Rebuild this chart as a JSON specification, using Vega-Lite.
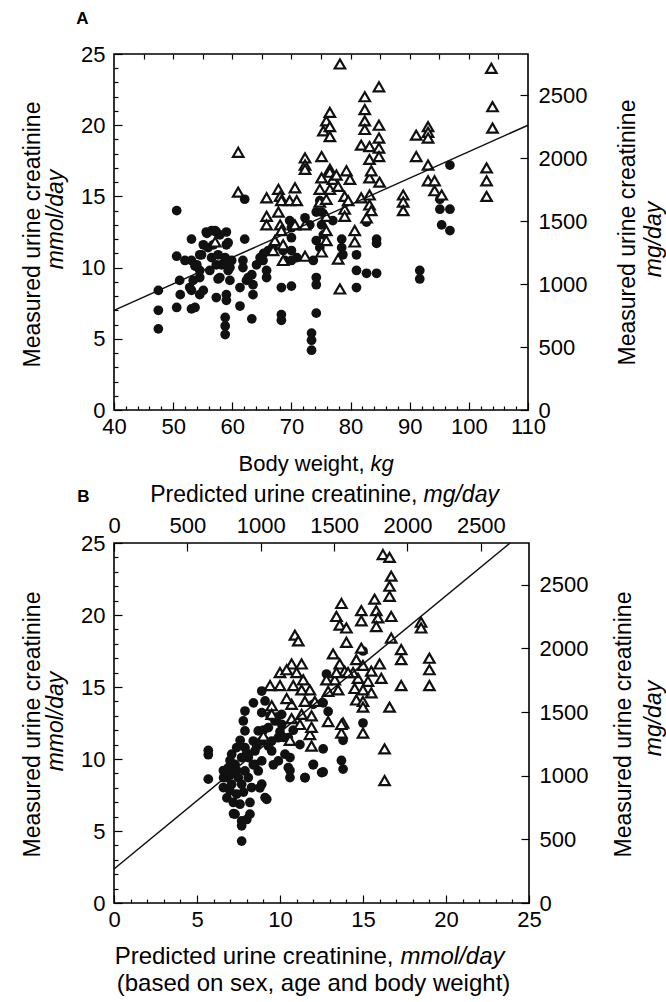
{
  "$schema": "https://vega.github.io/schema/vega-lite/v6.json",
  "padding": {"left": 20, "top": 8, "right": 0, "bottom": 0},
  "background": "white",
  "spacing": 7,
  "config": {
    "font": "Liberation Sans",
    "view": {"stroke": "black", "strokeWidth": 1.6},
    "axis": {"domain": false, "grid": false, "tickColor": "black", "tickWidth": 1.2, "labelFont": "Liberation Sans", "labelFontSize": 22, "labelColor": "black", "titleFont": "Liberation Sans", "titleColor": "black", "titleFontWeight": "normal", "titleFontSize": 23, "labelFlush": false, "labelOverlap": false, "titleBaseline": "middle", "titleAlign": "center"}
  },
  "datasets": {
    "a_f": [{"x":47.5,"y":8.4},{"x":47.5,"y":7.0},{"x":47.5,"y":5.7},{"x":50.6,"y":14.0},{"x":50.6,"y":10.8},{"x":50.6,"y":7.2},{"x":51.1,"y":9.1},{"x":51.2,"y":8.1},{"x":52.0,"y":10.5},{"x":53.1,"y":12.0},{"x":53.1,"y":10.5},{"x":53.1,"y":8.4},{"x":53.1,"y":7.1},{"x":52.8,"y":8.6},{"x":53.7,"y":7.2},{"x":53.7,"y":10.1},{"x":53.4,"y":9.1},{"x":54.5,"y":8.1},{"x":54.5,"y":9.3},{"x":54.0,"y":10.2},{"x":54.5,"y":10.9},{"x":54.5,"y":9.8},{"x":54.8,"y":10.9},{"x":55.1,"y":11.6},{"x":55.1,"y":8.4},{"x":55.6,"y":12.5},{"x":55.7,"y":12.4},{"x":55.9,"y":11.4},{"x":56.2,"y":9.8},{"x":56.5,"y":12.6},{"x":56.5,"y":10.7},{"x":56.8,"y":11.6},{"x":57.1,"y":12.6},{"x":57.3,"y":12.5},{"x":57.3,"y":10.2},{"x":57.3,"y":7.9},{"x":57.6,"y":10.9},{"x":57.6,"y":9.2},{"x":57.9,"y":12.3},{"x":57.9,"y":9.3},{"x":58.2,"y":10.2},{"x":58.5,"y":10.3},{"x":58.8,"y":10.7},{"x":58.8,"y":6.5},{"x":58.8,"y":5.9},{"x":58.8,"y":5.3},{"x":59.0,"y":12.5},{"x":59.0,"y":11.6},{"x":59.0,"y":8.1},{"x":59.0,"y":7.7},{"x":59.3,"y":11.75},{"x":59.3,"y":9.8},{"x":59.6,"y":10.0},{"x":59.6,"y":9.1},{"x":59.9,"y":10.5},{"x":61.3,"y":8.6},{"x":61.3,"y":7.3},{"x":61.8,"y":10.5},{"x":61.8,"y":10.0},{"x":62.1,"y":12.0},{"x":62.1,"y":14.8},{"x":62.4,"y":9.1},{"x":62.7,"y":9.3},{"x":63.3,"y":9.5},{"x":63.3,"y":6.4},{"x":63.5,"y":8.8},{"x":63.5,"y":8.1},{"x":64.1,"y":10.2},{"x":64.7,"y":10.7},{"x":65.2,"y":10.5},{"x":65.3,"y":11.0},{"x":65.8,"y":9.8},{"x":65.8,"y":9.3},{"x":66.1,"y":11.2},{"x":66.9,"y":11.4},{"x":68.3,"y":8.6},{"x":68.3,"y":6.7},{"x":68.3,"y":6.3},{"x":68.6,"y":11.2},{"x":68.9,"y":10.5},{"x":69.7,"y":13.3},{"x":70.0,"y":12.8},{"x":70.0,"y":12.1},{"x":70.0,"y":11.2},{"x":70.0,"y":10.5},{"x":70.0,"y":8.7},{"x":70.9,"y":10.7},{"x":72.3,"y":13.5},{"x":73.1,"y":13.0},{"x":73.4,"y":5.4},{"x":73.4,"y":4.9},{"x":73.4,"y":4.2},{"x":73.7,"y":10.5},{"x":74.2,"y":13.9},{"x":74.2,"y":11.9},{"x":74.2,"y":9.3},{"x":74.2,"y":8.8},{"x":74.2,"y":6.8},{"x":74.8,"y":14.7},{"x":74.8,"y":11.4},{"x":75.1,"y":13.9},{"x":75.1,"y":13.0},{"x":75.4,"y":12.3},{"x":77.0,"y":13.3},{"x":78.5,"y":12.0},{"x":78.5,"y":11.4},{"x":78.7,"y":10.9},{"x":81.0,"y":10.9},{"x":81.0,"y":9.8},{"x":81.0,"y":8.6},{"x":82.7,"y":13.2},{"x":82.7,"y":9.6},{"x":84.4,"y":12.0},{"x":84.4,"y":11.7},{"x":84.4,"y":9.6},{"x":91.7,"y":9.8},{"x":91.7,"y":9.2},{"x":95.1,"y":14.8},{"x":95.1,"y":14.1},{"x":95.4,"y":13.0},{"x":96.8,"y":17.2},{"x":96.8,"y":14.1},{"x":96.8,"y":12.6}],
    "a_o": [{"x":61.0,"y":18.1},{"x":61.0,"y":15.3},{"x":57.1,"y":11.8},{"x":65.8,"y":14.9},{"x":65.8,"y":13.6},{"x":65.8,"y":13.0},{"x":66.9,"y":11.2},{"x":67.2,"y":11.9},{"x":67.8,"y":15.5},{"x":67.8,"y":13.9},{"x":68.1,"y":15.0},{"x":68.1,"y":13.0},{"x":68.3,"y":14.7},{"x":68.3,"y":12.6},{"x":68.6,"y":11.6},{"x":68.6,"y":10.5},{"x":69.7,"y":14.7},{"x":70.6,"y":15.6},{"x":70.6,"y":13.0},{"x":70.9,"y":14.7},{"x":72.3,"y":17.7},{"x":72.3,"y":17.2},{"x":72.3,"y":16.9},{"x":72.3,"y":13.0},{"x":72.3,"y":10.8},{"x":74.8,"y":15.5},{"x":74.8,"y":14.6},{"x":75.1,"y":17.8},{"x":75.1,"y":16.3},{"x":75.1,"y":11.1},{"x":75.4,"y":19.6},{"x":75.9,"y":20.3},{"x":75.9,"y":14.8},{"x":75.9,"y":13.6},{"x":75.9,"y":12.6},{"x":75.9,"y":11.9},{"x":76.5,"y":20.9},{"x":76.5,"y":19.9},{"x":76.5,"y":19.2},{"x":76.5,"y":16.9},{"x":76.5,"y":16.7},{"x":76.5,"y":15.5},{"x":77.0,"y":16.2},{"x":77.6,"y":16.5},{"x":77.9,"y":15.7},{"x":77.9,"y":10.6},{"x":78.2,"y":24.3},{"x":78.2,"y":8.5},{"x":79.0,"y":15.0},{"x":79.0,"y":14.1},{"x":79.0,"y":13.6},{"x":79.3,"y":16.8},{"x":79.6,"y":14.7},{"x":79.9,"y":16.2},{"x":80.7,"y":12.6},{"x":80.7,"y":11.8},{"x":81.8,"y":18.6},{"x":81.8,"y":14.9},{"x":82.4,"y":22.0},{"x":82.4,"y":21.1},{"x":82.4,"y":20.3},{"x":82.4,"y":19.7},{"x":82.7,"y":13.5},{"x":83.2,"y":18.5},{"x":83.2,"y":17.6},{"x":83.2,"y":16.3},{"x":83.2,"y":15.1},{"x":83.2,"y":14.4},{"x":83.5,"y":16.8},{"x":83.5,"y":14.0},{"x":84.8,"y":22.7},{"x":84.8,"y":20.0},{"x":84.8,"y":19.1},{"x":84.8,"y":18.4},{"x":84.8,"y":17.8},{"x":84.9,"y":16.0},{"x":88.9,"y":15.1},{"x":88.9,"y":14.6},{"x":88.9,"y":14.0},{"x":91.1,"y":19.3},{"x":91.1,"y":17.8},{"x":93.1,"y":19.9},{"x":93.1,"y":19.5},{"x":93.1,"y":19.1},{"x":93.1,"y":17.2},{"x":93.1,"y":16.1},{"x":94.2,"y":16.1},{"x":94.2,"y":15.4},{"x":95.4,"y":15.1},{"x":103.0,"y":17.0},{"x":103.0,"y":16.1},{"x":103.0,"y":15.0},{"x":103.8,"y":24.0},{"x":104.0,"y":21.3},{"x":104.0,"y":19.8}],
    "a_fit": [{"x":40,"y":7.0},{"x":110,"y":20.0}],
    "b_f": [{"x":5.68,"y":10.6},{"x":5.68,"y":10.3},{"x":5.68,"y":8.6},{"x":7.69,"y":4.3},{"x":7.69,"y":5.36},{"x":7.69,"y":5.7},{"x":7.29,"y":6.17},{"x":8.19,"y":6.17},{"x":8.19,"y":6.98},{"x":7.59,"y":6.86},{"x":7.19,"y":6.98},{"x":7.09,"y":8.25},{"x":6.89,"y":9.4},{"x":7.09,"y":10.33},{"x":7.39,"y":10.79},{"x":7.89,"y":10.79},{"x":8.09,"y":10.1},{"x":8.49,"y":10.56},{"x":8.9,"y":9.87},{"x":8.69,"y":9.17},{"x":8.9,"y":8.25},{"x":9.1,"y":7.32},{"x":9.2,"y":7.2},{"x":7.49,"y":8.71},{"x":7.89,"y":9.17},{"x":8.29,"y":8.02},{"x":7.89,"y":13.33},{"x":7.79,"y":12.64},{"x":7.89,"y":11.95},{"x":8.9,"y":14.72},{"x":9.1,"y":14.03},{"x":8.9,"y":13.22},{"x":9.3,"y":12.18},{"x":9.7,"y":12.64},{"x":10.1,"y":12.41},{"x":10.5,"y":11.48},{"x":9.9,"y":11.48},{"x":9.5,"y":10.56},{"x":9.9,"y":9.87},{"x":10.3,"y":10.33},{"x":10.5,"y":9.4},{"x":10.6,"y":8.71},{"x":11.51,"y":8.71},{"x":12.01,"y":9.63},{"x":12.51,"y":9.06},{"x":9.5,"y":11.25},{"x":8.9,"y":11.25},{"x":10.1,"y":13.1},{"x":6.99,"y":7.79},{"x":6.79,"y":8.71},{"x":6.59,"y":8.02},{"x":7.39,"y":7.56},{"x":7.69,"y":8.25},{"x":8.09,"y":8.71},{"x":8.49,"y":9.63},{"x":7.29,"y":9.63},{"x":7.69,"y":10.1},{"x":8.39,"y":11.25},{"x":8.69,"y":11.95},{"x":6.59,"y":9.2},{"x":6.99,"y":9.9},{"x":7.39,"y":9.2},{"x":8.0,"y":5.8},{"x":7.2,"y":6.2},{"x":6.8,"y":7.3},{"x":6.6,"y":8.7},{"x":12.6,"y":13.9},{"x":12.8,"y":15.9},{"x":12.9,"y":13.3},{"x":12.0,"y":13.8},{"x":12.6,"y":10.7},{"x":12.6,"y":9.1},{"x":13.7,"y":9.9},{"x":13.8,"y":9.3},{"x":13.8,"y":11.3},{"x":15.0,"y":12.5},{"x":15.0,"y":17.5},{"x":10.6,"y":10.1},{"x":10.6,"y":9.2},{"x":9.6,"y":9.6},{"x":12.0,"y":9.6},{"x":11.5,"y":8.7},{"x":8.39,"y":9.6},{"x":8.79,"y":8.0},{"x":9.0,"y":12.0},{"x":9.4,"y":13.0},{"x":10.0,"y":11.9},{"x":10.2,"y":11.5},{"x":8.0,"y":10.4},{"x":7.6,"y":11.3},{"x":7.0,"y":8.9},{"x":7.8,"y":7.7},{"x":8.6,"y":10.9},{"x":9.3,"y":10.9},{"x":9.8,"y":12.9},{"x":8.4,"y":13.9},{"x":10.8,"y":12.0},{"x":11.2,"y":11.0}],
    "b_o": [{"x":16.2,"y":24.2},{"x":16.6,"y":24.0},{"x":16.7,"y":22.7},{"x":16.6,"y":22.0},{"x":16.6,"y":21.3},{"x":16.7,"y":19.9},{"x":15.7,"y":21.1},{"x":15.8,"y":20.3},{"x":15.9,"y":19.8},{"x":15.8,"y":19.2},{"x":14.9,"y":20.3},{"x":14.9,"y":19.6},{"x":13.7,"y":20.8},{"x":13.4,"y":19.9},{"x":13.6,"y":19.3},{"x":14.0,"y":19.1},{"x":14.0,"y":18.1},{"x":16.7,"y":18.4},{"x":18.5,"y":19.5},{"x":18.5,"y":19.1},{"x":17.3,"y":17.6},{"x":17.3,"y":16.9},{"x":17.3,"y":15.1},{"x":19.0,"y":17.0},{"x":19.0,"y":16.2},{"x":19.0,"y":15.1},{"x":16.6,"y":13.6},{"x":16.3,"y":10.7},{"x":16.3,"y":8.5},{"x":10.9,"y":18.6},{"x":11.1,"y":18.2},{"x":10.0,"y":16.0},{"x":10.0,"y":15.1},{"x":9.4,"y":15.1},{"x":10.7,"y":16.6},{"x":11.3,"y":16.6},{"x":10.8,"y":15.1},{"x":11.4,"y":15.5},{"x":11.8,"y":14.8},{"x":11.3,"y":14.8},{"x":10.7,"y":13.8},{"x":9.5,"y":13.7},{"x":9.5,"y":13.1},{"x":10.7,"y":12.8},{"x":11.3,"y":13.1},{"x":11.9,"y":13.0},{"x":11.8,"y":11.7},{"x":11.9,"y":10.9},{"x":9.0,"y":11.6},{"x":10.6,"y":11.3},{"x":12.9,"y":12.6},{"x":13.8,"y":12.5},{"x":13.7,"y":11.8},{"x":15.0,"y":11.8},{"x":13.2,"y":17.3},{"x":13.6,"y":16.6},{"x":13.9,"y":16.1},{"x":13.3,"y":15.5},{"x":13.5,"y":14.8},{"x":12.8,"y":15.5},{"x":12.9,"y":14.7},{"x":14.6,"y":16.9},{"x":14.9,"y":17.7},{"x":15.0,"y":16.5},{"x":14.7,"y":15.6},{"x":14.5,"y":14.9},{"x":14.6,"y":14.1},{"x":15.0,"y":14.0},{"x":15.0,"y":13.6},{"x":15.5,"y":16.1},{"x":15.5,"y":14.6},{"x":16.0,"y":16.6},{"x":16.1,"y":15.6},{"x":15.3,"y":15.4},{"x":15.0,"y":14.8},{"x":14.4,"y":16.0},{"x":14.1,"y":16.0},{"x":13.4,"y":16.0},{"x":13.7,"y":12.4},{"x":11.2,"y":12.4},{"x":12.1,"y":14.0},{"x":11.5,"y":14.0},{"x":10.4,"y":16.2},{"x":11.0,"y":16.0},{"x":11.9,"y":12.2},{"x":10.4,"y":14.2}],
    "b_fit": [{"x":0,"y":2.36},{"x":23.86,"y":25.0}]
  },
  "vconcat": [
    {
      "width": 414,
      "height": 356,
      "resolve": {"axis": {"x": "independent", "y": "independent"}},
      "layer": [
        {
          "data": {"name": "a_f"},
          "mark": {"type": "point", "shape": "circle", "filled": true, "size": 95, "color": "#111111", "opacity": 1},
          "encoding": {
            "x": {"field": "x", "type": "quantitative", "scale": {"domain": [40, 110], "nice": false, "zero": false},
              "axis": {"orient": "bottom", "values": [40,42,44,46,48,50,52,54,56,58,60,62,64,66,68,70,72,74,76,78,80,82,84,86,88,90,92,94,96,98,100,102,104,106,108,110], "labelExpr": "datum.value % 10 === 0 ? datum.label : ''", "tickSize": {"condition": {"test": "datum.value % 10 === 0", "value": -8}, "value": -4}, "labelPadding": 14, "title": "Body weight,", "titleX": 250, "titleY": 53, "titleAlign": "right", "titleFontSize": 22}},
            "y": {"field": "y", "type": "quantitative", "scale": {"domain": [0, 25], "nice": false, "zero": false},
              "axis": {"orient": "left", "values": [0,1,2,3,4,5,6,7,8,9,10,11,12,13,14,15,16,17,18,19,20,21,22,23,24,25], "labelExpr": "datum.value % 5 === 0 ? datum.label : ''", "tickSize": {"condition": {"test": "datum.value % 5 === 0", "value": -8}, "value": -4}, "labelPadding": 17, "title": "mmol/day", "titleFontStyle": "italic", "titleX": -59, "titleY": 165, "titleAngle": 270}}
          }
        },
        {
          "data": {"name": "a_o"},
          "mark": {"type": "point", "shape": "triangle-up", "filled": true, "fill": "white", "stroke": "#111111", "strokeWidth": 2.2, "size": 110, "opacity": 1},
          "encoding": {
            "x": {"field": "x", "type": "quantitative", "scale": {"domain": [40, 110], "nice": false, "zero": false},
              "axis": {"orient": "bottom", "labels": false, "ticks": false, "title": "kg", "titleFontStyle": "italic", "titleX": 256, "titleY": 53, "titleAlign": "left", "titleFontSize": 22}},
            "y": {"field": "y", "type": "quantitative", "scale": {"domain": [0, 25], "nice": false, "zero": false},
              "axis": {"orient": "left", "labels": false, "ticks": false, "title": "Measured urine creatinine", "titleX": -82, "titleY": 180, "titleAngle": 270}}
          }
        },
        {
          "data": {"name": "a_fit"},
          "mark": {"type": "line", "color": "#111111", "strokeWidth": 1.5},
          "encoding": {
            "x": {"field": "x", "type": "quantitative", "scale": {"domain": [40, 110], "nice": false, "zero": false},
              "axis": {"orient": "top", "labels": false, "values": [45,50,55,60,65,70,75,80,85,90,95,100,105], "tickSize": -5, "title": "A", "titleFontWeight": "bold", "titleFontSize": 17, "titleX": -32, "titleY": -36}},
            "y": {"field": "y", "type": "quantitative", "scale": {"domain": [0, 25], "nice": false, "zero": false},
              "axis": {"orient": "right", "values": [0, 4.42008, 8.84017, 13.26025, 17.68034, 22.10042], "labelExpr": "format(round(datum.value * 113.12), 'd')", "tickSize": -8, "labelPadding": 18, "labelAlign": "left", "title": "Measured urine creatinine", "titleX": 99, "titleY": 178, "titleAngle": 270}}
          }
        },
        {
          "data": {"name": "a_f"},
          "mark": {"type": "point", "opacity": 0},
          "encoding": {
            "x": {"field": "x", "type": "quantitative", "scale": {"domain": [40, 110], "nice": false, "zero": false}, "axis": null},
            "y": {"field": "y", "type": "quantitative", "scale": {"domain": [0, 25], "nice": false, "zero": false},
              "axis": {"orient": "right", "labels": false, "ticks": false, "title": "mg/day", "titleFontStyle": "italic", "titleX": 125, "titleY": 185, "titleAngle": 270}}
          }
        }
      ]
    },
    {
      "width": 415,
      "height": 360,
      "resolve": {"axis": {"x": "independent", "y": "independent"}},
      "layer": [
        {
          "data": {"name": "b_f"},
          "mark": {"type": "point", "shape": "circle", "filled": true, "size": 95, "color": "#111111", "opacity": 1},
          "encoding": {
            "x": {"field": "x", "type": "quantitative", "scale": {"domain": [0, 25], "nice": false, "zero": false},
              "axis": {"orient": "bottom", "values": [0,1,2,3,4,5,6,7,8,9,10,11,12,13,14,15,16,17,18,19,20,21,22,23,24,25], "labelExpr": "datum.value % 5 === 0 ? datum.label : ''", "tickSize": {"condition": {"test": "datum.value % 5 === 0", "value": -8}, "value": -4}, "labelPadding": 14, "title": "Predicted urine creatinine,", "titleX": 279, "titleY": 53, "titleAlign": "right", "titleFontSize": 24}},
            "y": {"field": "y", "type": "quantitative", "scale": {"domain": [0, 25], "nice": false, "zero": false},
              "axis": {"orient": "left", "values": [0,1,2,3,4,5,6,7,8,9,10,11,12,13,14,15,16,17,18,19,20,21,22,23,24,25], "labelExpr": "datum.value % 5 === 0 ? datum.label : ''", "tickSize": {"condition": {"test": "datum.value % 5 === 0", "value": -8}, "value": -4}, "labelPadding": 17, "title": "mmol/day", "titleFontStyle": "italic", "titleX": -59, "titleY": 178, "titleAngle": 270}}
          }
        },
        {
          "data": {"name": "b_o"},
          "mark": {"type": "point", "shape": "triangle-up", "filled": true, "fill": "white", "stroke": "#111111", "strokeWidth": 2.2, "size": 110, "opacity": 1},
          "encoding": {
            "x": {"field": "x", "type": "quantitative", "scale": {"domain": [0, 25], "nice": false, "zero": false},
              "axis": {"orient": "bottom", "labels": false, "ticks": false, "title": "mmol/day", "titleFontStyle": "italic", "titleX": 286, "titleY": 53, "titleAlign": "left", "titleFontSize": 24}},
            "y": {"field": "y", "type": "quantitative", "scale": {"domain": [0, 25], "nice": false, "zero": false},
              "axis": {"orient": "left", "labels": false, "ticks": false, "title": "Measured urine creatinine", "titleX": -82, "titleY": 181, "titleAngle": 270}}
          }
        },
        {
          "data": {"name": "b_fit"},
          "mark": {"type": "line", "color": "#111111", "strokeWidth": 1.5},
          "encoding": {
            "x": {"field": "x", "type": "quantitative", "scale": {"domain": [0, 25], "nice": false, "zero": false},
              "axis": {"orient": "top", "values": [0, 4.42008, 8.84017, 13.26025, 17.68034, 22.10042], "labelExpr": "format(round(datum.value * 113.12), 'd')", "tickSize": -8, "labelPadding": 14, "title": "Predicted urine creatinine,", "titleX": 303, "titleY": -49, "titleAlign": "right", "titleFontSize": 23}},
            "y": {"field": "y", "type": "quantitative", "scale": {"domain": [0, 25], "nice": false, "zero": false},
              "axis": {"orient": "right", "values": [0, 4.42008, 8.84017, 13.26025, 17.68034, 22.10042], "labelExpr": "format(round(datum.value * 113.12), 'd')", "tickSize": -8, "labelPadding": 18, "labelAlign": "left", "title": "Measured urine creatinine", "titleX": 94, "titleY": 181, "titleAngle": 270}}
          }
        },
        {
          "data": {"name": "b_f"},
          "mark": {"type": "point", "opacity": 0},
          "encoding": {
            "x": {"field": "x", "type": "quantitative", "scale": {"domain": [0, 25], "nice": false, "zero": false},
              "axis": {"orient": "top", "labels": false, "ticks": false, "title": "mg/day", "titleFontStyle": "italic", "titleX": 309, "titleY": -49, "titleAlign": "left", "titleFontSize": 23}},
            "y": {"field": "y", "type": "quantitative", "scale": {"domain": [0, 25], "nice": false, "zero": false},
              "axis": {"orient": "right", "labels": false, "ticks": false, "title": "mg/day", "titleFontStyle": "italic", "titleX": 124, "titleY": 175, "titleAngle": 270}}
          }
        },
        {
          "data": {"name": "b_f"},
          "mark": {"type": "point", "opacity": 0},
          "encoding": {
            "x": {"field": "x", "type": "quantitative", "scale": {"domain": [0, 25], "nice": false, "zero": false},
              "axis": {"orient": "bottom", "labels": false, "ticks": false, "title": "(based on sex, age and body weight)", "titleX": 199, "titleY": 80, "titleFontSize": 24}},
            "y": {"field": "y", "type": "quantitative", "scale": {"domain": [0, 25], "nice": false, "zero": false}, "axis": null}
          }
        },
        {
          "data": {"name": "b_f"},
          "mark": {"type": "point", "opacity": 0},
          "encoding": {
            "x": {"field": "x", "type": "quantitative", "scale": {"domain": [0, 25], "nice": false, "zero": false},
              "axis": {"orient": "top", "labels": false, "ticks": false, "title": "B", "titleFontWeight": "bold", "titleFontSize": 17, "titleX": -31, "titleY": -47}},
            "y": {"field": "y", "type": "quantitative", "scale": {"domain": [0, 25], "nice": false, "zero": false}, "axis": null}
          }
        }
      ]
    }
  ]
}
